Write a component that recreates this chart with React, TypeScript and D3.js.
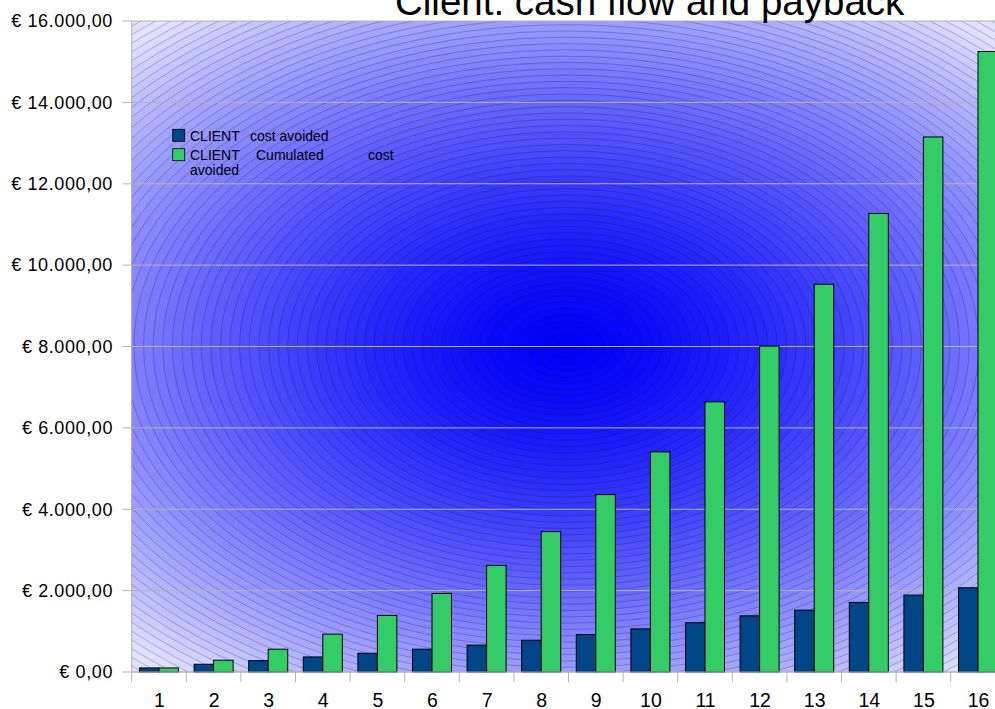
import React from 'react';
import * as d3 from 'd3';

const title = 'Client: cash flow and payback';
const categories = ['1', '2', '3', '4', '5', '6', '7', '8', '9', '10', '11', '12', '13', '14', '15', '16'];
const costAvoided = [100, 190, 280, 370, 460, 560, 660, 780, 920, 1060, 1210, 1380, 1520, 1710, 1890, 2070];
const cumulatedCostAvoided = [100, 290, 560, 930, 1390, 1930, 2620, 3450, 4360, 5410, 6640, 8010, 9530, 11270, 13150, 15250];
const yTicks = [0, 2000, 4000, 6000, 8000, 10000, 12000, 14000, 16000];
const seriesKeys = ['cost', 'cum'];
const seriesColors = ['#004586', '#33cc66'];

const W = 995;
const H = 709;
const M = { left: 131.7, top: 21, right: 1005.3, bottom: 672 };
const FONT = '"Liberation Sans", Arial, sans-serif';

const euro = d3.formatLocale({ decimal: ',', thousands: '.', grouping: [3], currency: ['€ ', ''] }).format('$,.2f');

export default function App() {
  const x0 = d3.scaleBand<string>().domain(categories).range([M.left, M.right]).paddingInner(0).paddingOuter(0);
  const x1 = d3.scaleBand<string>().domain(seriesKeys).range([0, x0.bandwidth()]).paddingInner(0).paddingOuter(0.4);
  const y = d3.scaleLinear().domain([0, 16000]).range([M.bottom, M.top]);

  // decorative ellipsoid gradient (stepped, like the original renderer)
  const cx = 566;
  const cy = 346;
  const RX = 640;
  const RY = 420;
  const steps = 72;
  const c0 = d3.rgb(0, 0, 250);
  const c1 = d3.rgb(226, 226, 255);
  const interp = d3.interpolateRgb(c0, c1);
  const rings: { t: number; color: string }[] = [];
  for (let i = steps; i >= 1; i--) {
    const t = (i / steps) * 1.08;
    const tc = Math.min(1, Math.pow(Math.min(t, 1), 1.5));
    rings.push({ t, color: interp(tc) });
  }

  const pw = M.right - M.left;
  const ph = M.bottom - M.top;

  return (
    <svg width={W} height={H} style={{ position: 'absolute', left: 0, top: 0, background: '#ffffff' }} fontFamily={FONT}>
      <defs>
        <clipPath id="plotClip">
          <rect x={M.left} y={M.top} width={pw} height={ph} />
        </clipPath>
      </defs>
      <rect x={0} y={0} width={W} height={H} fill="#ffffff" />
      <g clipPath="url(#plotClip)">
        <rect x={M.left} y={M.top} width={pw} height={ph} fill={c1.toString()} />
        {rings.map((r, i) => (
          <ellipse
            key={i}
            cx={cx}
            cy={cy}
            rx={r.t * RX}
            ry={r.t * RY}
            fill={r.color}
            stroke="#141440"
            strokeOpacity={0.42}
            strokeWidth={0.6}
          />
        ))}
      </g>

      {/* gridlines */}
      {yTicks.map((t) => (
        <line key={'g' + t} x1={M.left} x2={M.right} y1={y(t)} y2={y(t)} stroke="#b3b3b3" strokeWidth={1} />
      ))}

      {/* bars */}
      {categories.map((c, i) => (
        <g key={c}>
          {[costAvoided[i], cumulatedCostAvoided[i]].map((v, j) => (
            <rect
              key={j}
              x={(x0(c) as number) + (x1(seriesKeys[j]) as number)}
              y={y(v)}
              width={x1.bandwidth()}
              height={y(0) - y(v)}
              fill={seriesColors[j]}
              stroke="#000000"
              strokeWidth={1}
            />
          ))}
        </g>
      ))}

      {/* axes */}
      <line x1={M.left} x2={M.left} y1={M.top} y2={M.bottom + 10} stroke="#b3b3b3" strokeWidth={1} />
      <line x1={M.left} x2={M.right} y1={M.bottom} y2={M.bottom} stroke="#b3b3b3" strokeWidth={1} />
      {yTicks.map((t) => (
        <g key={'y' + t}>
          <line x1={M.left - 9} x2={M.left} y1={y(t)} y2={y(t)} stroke="#b3b3b3" strokeWidth={1} />
          <text x={113} y={y(t)} dy="0.35em" textAnchor="end" fontSize={18} letterSpacing={0.6} fill="#000">
            {euro(t)}
          </text>
        </g>
      ))}
      {categories.map((c) => (
        <g key={'x' + c}>
          <line x1={(x0(c) as number) + x0.bandwidth()} x2={(x0(c) as number) + x0.bandwidth()} y1={M.bottom} y2={M.bottom + 10} stroke="#b3b3b3" strokeWidth={1} />
          <text x={(x0(c) as number) + x0.bandwidth() / 2 + 0.5} y={706.5} textAnchor="middle" fontSize={19.5} fill="#000">
            {c}
          </text>
        </g>
      ))}

      {/* legend */}
      <g>
        <rect x={172.7} y={129.3} width={12} height={12} fill={seriesColors[0]} stroke="#000" strokeWidth={0.8} />
        <rect x={172.7} y={148.7} width={12} height={12} fill={seriesColors[1]} stroke="#000" strokeWidth={0.8} />
        <text fontSize={14} fill="#000">
          <tspan x={190} y={140.5}>CLIENT</tspan>
          <tspan x={250} y={140.5}>cost avoided</tspan>
          <tspan x={190} y={160}>CLIENT</tspan>
          <tspan x={256} y={160}>Cumulated</tspan>
          <tspan x={368} y={160}>cost</tspan>
          <tspan x={190} y={174.5}>avoided</tspan>
        </text>
      </g>

      {/* title */}
      <text x={395} y={14.5} fontSize={38.5} fill="#000">
        {title}
      </text>
    </svg>
  );
}
